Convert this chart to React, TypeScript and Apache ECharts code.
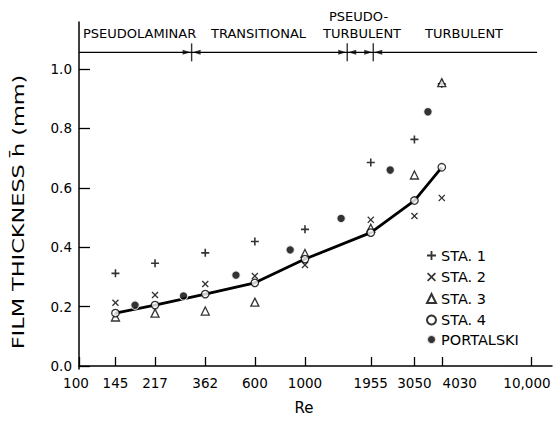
import React, { useEffect, useRef } from 'react';
import * as echarts from 'echarts';

// Axis ticks
const reTicks = [100, 145, 217, 362, 600, 1000, 1955, 3050, 4030, 10000];
const reTickLabels = ['100', '145', '217', '362', '600', '1000', '1955', '3050', '4030', '10,000'];
const yTicks = [0, 0.2, 0.4, 0.6, 0.8, 1.0];

// Station data (film thickness, mm) at the station Reynolds numbers
const staRe = [145, 217, 362, 600, 1000, 1955, 3050, 4030];
const sta1 = [0.312, 0.346, 0.381, 0.419, 0.460, 0.685, 0.763, 0.950];
const sta2 = [0.213, 0.239, 0.276, 0.303, 0.340, 0.492, 0.505, 0.566];
const sta3 = [0.165, 0.178, 0.185, 0.215, 0.379, 0.464, 0.643, 0.954];
const sta4 = [0.178, 0.205, 0.242, 0.280, 0.360, 0.449, 0.557, 0.669];

// Portalski data
const portalskiRe = [177, 290, 495, 860, 1445, 2383, 3500];
const portalski = [0.205, 0.236, 0.306, 0.391, 0.497, 0.660, 0.856];

// Flow regimes
const regimeBounds = [315, 1538, 2005];
const regimeLevel = 1.056;
const regimeExtent = [100, 10640];

const FONT = '"DejaVu Sans", "Liberation Sans", sans-serif';
const PLUS = 'path://M4,0h2v4h4v2h-4v4h-2v-4h-4v-2h4z';
const CROSS = 'path://M0,1.3L1.3,0L5,3.7L8.7,0L10,1.3L6.3,5L10,8.7L8.7,10L5,6.3L1.3,10L0,8.7L3.7,5Z';

const pairs = (xs: number[], ys: number[]) => xs.map((x, i) => [x, ys[i]]);

const textEl = (text: string, x: number, y: number, size: number, extra: any = {}) => ({
  type: 'text',
  x,
  y,
  ...extra,
  style: {
    text,
    font: `${size}px ${FONT}`,
    fill: '#000',
    textAlign: extra.align || 'left',
    align: extra.align || 'left',
    textVerticalAlign: 'middle',
    verticalAlign: 'middle',
  },
});

export default function App() {
  const ref = useRef<HTMLDivElement>(null);
  useEffect(() => {
    if (!ref.current) return;
    const chart = echarts.init(ref.current, undefined, { renderer: 'svg' });
    const labelFor = (v: number) => {
      let best = 0;
      let bd = Infinity;
      reTicks.forEach((t, i) => {
        const d = Math.abs(Math.log(t) - Math.log(v));
        if (d < bd) { bd = d; best = i; }
      });
      const s = reTickLabels[best];
      const t = reTicks[best];
      if (t === 4030) return `{r|${s}}`;
      if (t === 10000) return `{l|${s}}`;
      if (t === 100) return `{l2|${s}}`;
      return s;
    };
    const lbl = { fontSize: 13.5, fontFamily: FONT, color: '#000' };
    chart.setOption({
      animation: false,
      backgroundColor: '#fff',
      grid: { left: 79, right: 6, top: 22, bottom: 52 },
      xAxis: {
        type: 'log',
        logBase: 10,
        min: 100,
        max: 12390,
        axisLine: { show: true, lineStyle: { color: '#000', width: 1.5 } },
        axisTick: { show: true, inside: true, length: 9, customValues: reTicks, lineStyle: { color: '#000', width: 1.3 } },
        axisLabel: {
          customValues: reTicks,
          margin: 7,
          ...lbl,
          formatter: labelFor,
          rich: {
            r: { ...lbl, padding: [0, 0, 0, 36] },
            l: { ...lbl, padding: [0, 8, 0, 0] },
            l2: { ...lbl, padding: [0, 6, 0, 0] },
          },
        },
        splitLine: { show: false },
        minorTick: { show: false },
      },
      yAxis: {
        type: 'value',
        min: -0.0101,
        max: 1.1582,
        axisLine: { show: true, lineStyle: { color: '#000', width: 1.5 } },
        axisTick: { show: true, inside: true, length: 11, customValues: yTicks, lineStyle: { color: '#000', width: 1.3 } },
        axisLabel: {
          customValues: yTicks,
          margin: 7,
          ...lbl,
          formatter: (v: number) => v.toFixed(1),
        },
        splitLine: { show: false },
      },
      legend: [
        {
          orient: 'vertical',
          left: 421,
          top: 243,
          itemWidth: 9,
          itemHeight: 9,
          itemGap: 6.5,
          textStyle: { color: '#000', fontSize: 14.5, fontFamily: FONT },
          data: ['STA. 1', 'STA. 2', 'STA. 3', 'STA. 4'],
        },
        {
          orient: 'vertical',
          left: 421,
          top: 327,
          itemWidth: 9,
          itemHeight: 9,
          textStyle: { color: '#000', fontSize: 14.5, fontFamily: FONT },
          data: ['PORTALSKI'],
        },
      ],
      series: [
        {
          name: 'regime line',
          type: 'line',
          data: regimeExtent.map((x) => [x, regimeLevel]),
          symbol: 'none',
          lineStyle: { color: '#000', width: 1.3 },
          silent: true,
          z: 1,
        },
        {
          name: 'regime bounds',
          type: 'scatter',
          data: regimeBounds.map((x) => [x, regimeLevel]),
          symbol: 'rect',
          symbolSize: [1.4, 18],
          itemStyle: { color: '#000' },
          silent: true,
        },
        {
          name: 'arrow right',
          type: 'scatter',
          data: regimeBounds.map((x) => [x, regimeLevel]),
          symbol: 'triangle',
          symbolSize: [5, 8],
          symbolRotate: -90,
          symbolOffset: [-5, 0],
          itemStyle: { color: '#000' },
          silent: true,
        },
        {
          name: 'arrow left',
          type: 'scatter',
          data: regimeBounds.map((x) => [x, regimeLevel]),
          symbol: 'triangle',
          symbolSize: [5, 8],
          symbolRotate: 90,
          symbolOffset: [5, 0],
          itemStyle: { color: '#000' },
          silent: true,
        },
        {
          name: 'STA. 4 line',
          type: 'line',
          data: pairs(staRe, sta4),
          symbol: 'none',
          lineStyle: { color: '#000', width: 2.8 },
          z: 2,
        },
        {
          name: 'STA. 1',
          type: 'scatter',
          data: pairs(staRe, sta1),
          symbol: PLUS,
          symbolSize: 8,
          itemStyle: { color: '#000' },
          z: 3,
        },
        {
          name: 'STA. 2',
          type: 'scatter',
          data: pairs(staRe, sta2),
          symbol: CROSS,
          symbolSize: 7,
          itemStyle: { color: '#000' },
          z: 3,
        },
        {
          name: 'STA. 3',
          type: 'scatter',
          data: pairs(staRe, sta3),
          symbol: 'triangle',
          symbolSize: 8,
          itemStyle: { color: '#fff', borderColor: '#000', borderWidth: 1.3 },
          z: 4,
        },
        {
          name: 'STA. 4',
          type: 'scatter',
          data: pairs(staRe, sta4),
          symbol: 'circle',
          symbolSize: 7.5,
          itemStyle: { color: '#fff', borderColor: '#000', borderWidth: 1.3 },
          z: 5,
        },
        {
          name: 'PORTALSKI',
          type: 'scatter',
          data: pairs(portalskiRe, portalski),
          symbol: 'circle',
          symbolSize: 8.5,
          itemStyle: { color: '#000', borderColor: '#fff', borderWidth: 1.2 },
          z: 5,
        },
      ],
      graphic: [
        textEl('PSEUDOLAMINAR', 83, 33, 13),
        textEl('TRANSITIONAL', 211, 33, 13),
        textEl('PSEUDO-', 329, 16, 13),
        textEl('TURBULENT', 323, 33, 13),
        textEl('TURBULENT', 425, 33, 13),
        textEl('FILM THICKNESS h\u0304 (mm)', 19, 212, 16, { rotation: Math.PI / 2, scaleX: 1.4, align: 'center' }),
        textEl('Re', 304, 408, 15, { align: 'center' }),
      ],
    });
    return () => chart.dispose();
  }, []);
  return <div ref={ref} style={{ width: 558, height: 421, position: 'absolute', left: 0, top: 0 }} />;
}
